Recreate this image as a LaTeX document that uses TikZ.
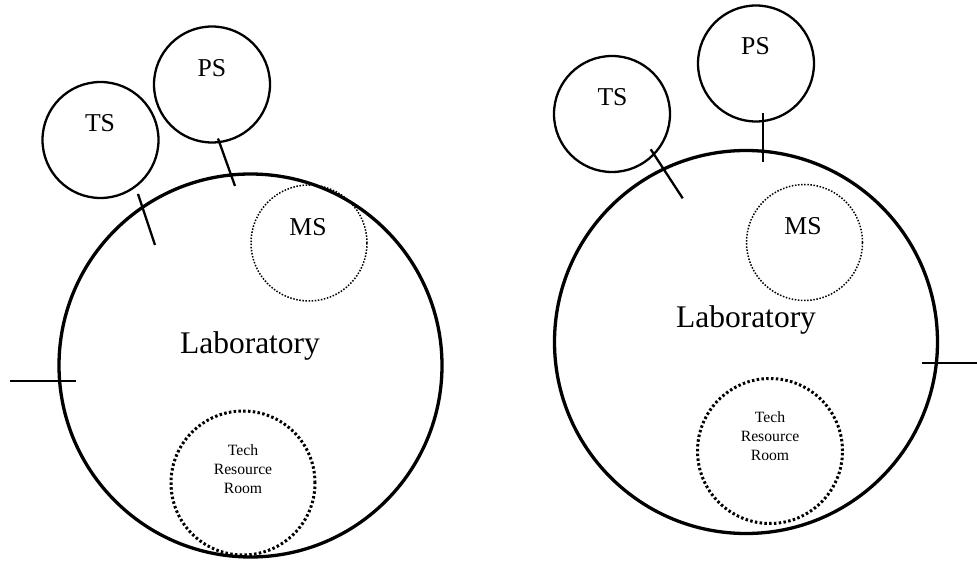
\documentclass[tikz,border=0pt]{standalone}
\usepackage{fontspec}
\setmainfont{Liberation Serif}
\begin{document}
\begin{tikzpicture}[x=1pt,y=-1pt,
  lab/.style={circle,draw,line width=3.3pt,inner sep=0pt,minimum size=383pt},
  sat/.style={circle,draw,line width=2.3pt,inner sep=0pt,minimum size=116pt},
  msroom/.style={circle,draw,line width=1.5pt,dash pattern=on 1.5pt off 1.6pt,inner sep=0pt,minimum size=116pt},
  techroom/.style={circle,draw,line width=3pt,dash pattern=on 2.5pt off 2.3pt,inner sep=0pt,minimum size=144pt},
  tick/.style={line width=2.3pt},
  bigtxt/.style={anchor=base,inner sep=0pt,font=\fontsize{31.5}{36}\selectfont},
  smalltxt/.style={anchor=base,inner sep=0pt,font=\fontsize{25.7}{30}\selectfont},
  techtxt/.style={anchor=base,inner sep=0pt,font=\fontsize{15.7}{19}\selectfont}
]
\useasboundingbox (0,0) rectangle (977,561);
% ---------- left diagram ----------
\node[lab] (labL) at (250.5,365.5) {};
\node[sat] (tsL) at (100.5,140) {};
\node[sat] (psL) at (212,84.5) {};
\node[msroom] (msL) at (309,243) {};
\node[techroom] (trL) at (243,483) {};
\node[bigtxt] (labLt) at (250,353.5) {Laboratory};
\node[smalltxt] (tsLt) at (100,131.5) {TS};
\node[smalltxt] (psLt) at (212,76.5) {PS};
\node[smalltxt] (msLt) at (308,235.5) {MS};
\node[techtxt] (trL1) at (243,455) {Tech};
\node[techtxt] (trL2) at (243,474) {Resource};
\node[techtxt] (trL3) at (243,493) {Room};
\coordinate (tsLa) at (138,194);
\coordinate (tsLb) at (155,245);
\coordinate (psLa) at (218,138.5);
\coordinate (psLb) at (235,186);
\coordinate (doorLa) at (10,381);
\coordinate (doorLb) at (76,381);
\draw[tick] (tsLa) -- (tsLb);
\draw[tick] (psLa) -- (psLb);
\draw[tick] (doorLa) -- (doorLb);
% ---------- right diagram ----------
\node[lab] (labR) at (746,342) {};
\node[sat] (tsR) at (612,114) {};
\node[sat] (psR) at (756,63.5) {};
\node[msroom] (msR) at (804.5,242.5) {};
\node[techroom,minimum size=145pt] (trR) at (770,451) {};
\node[bigtxt] (labRt) at (746,327.5) {Laboratory};
\node[smalltxt] (tsRt) at (612.5,105.5) {TS};
\node[smalltxt] (psRt) at (755.5,55) {PS};
\node[smalltxt] (msRt) at (803,235) {MS};
\node[techtxt] (trR1) at (770,422.5) {Tech};
\node[techtxt] (trR2) at (770,441.5) {Resource};
\node[techtxt] (trR3) at (770,460.5) {Room};
\coordinate (tsRa) at (650.7,149.3);
\coordinate (tsRb) at (682.7,198.3);
\coordinate (psRa) at (762.7,113.5);
\coordinate (psRb) at (762.7,162.4);
\coordinate (doorRa) at (921.7,363.3);
\coordinate (doorRb) at (977,363.3);
\draw[tick] (tsRa) -- (tsRb);
\draw[tick] (psRa) -- (psRb);
\draw[tick] (doorRa) -- (doorRb);
\end{tikzpicture}
\end{document}
